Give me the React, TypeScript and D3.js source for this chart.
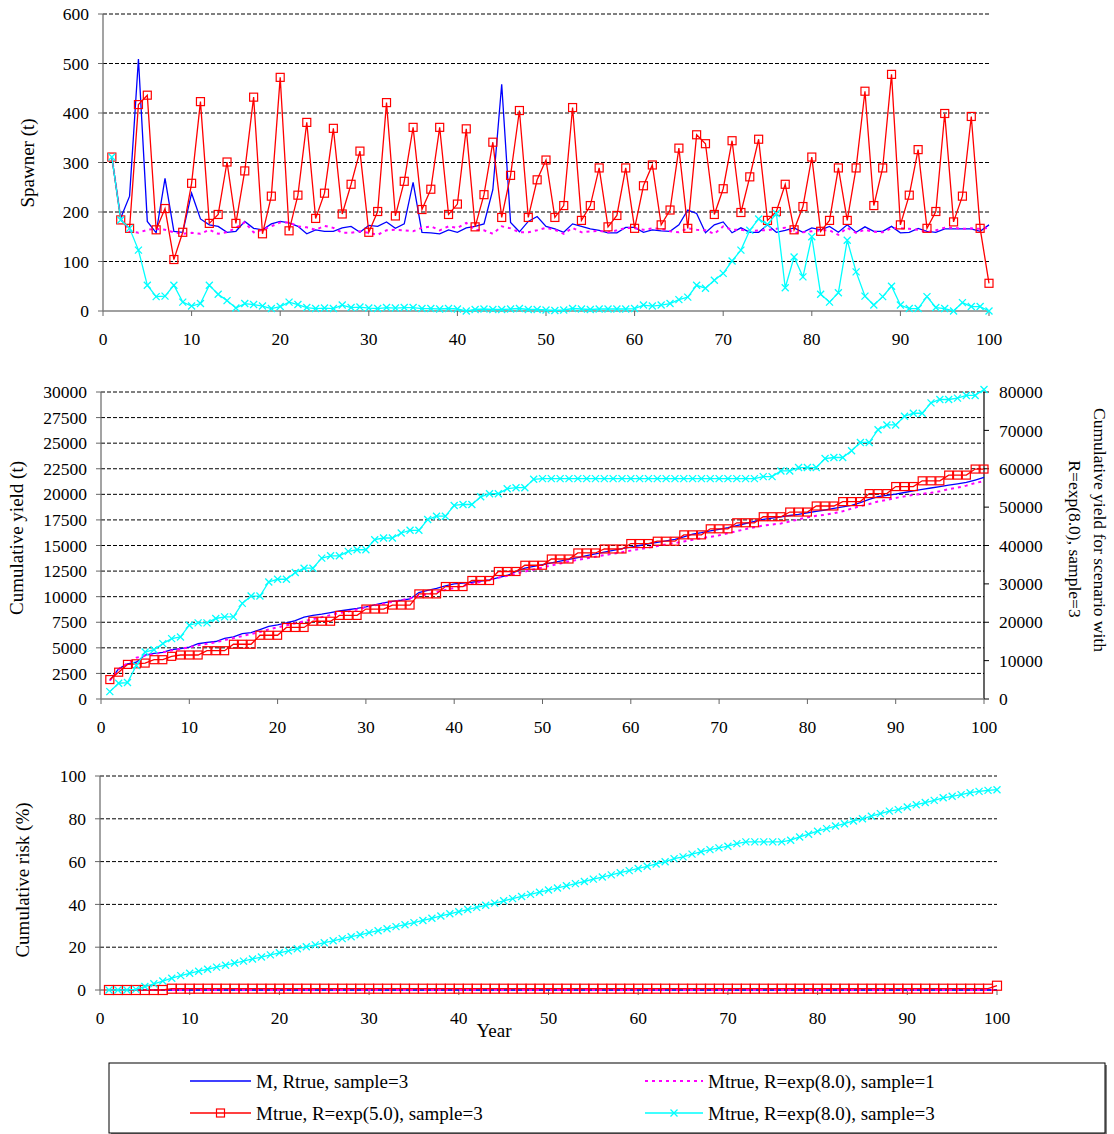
import React from "react";
import * as d3 from "d3";

const YEARS = d3.range(1, 101);

// ---------- Panel 1: Spawner (t) ----------
const spawnerM_Rtrue_s3 = [311,188,232,509,181,158,268,161,159,238,186,174,171,159,161,181,167,164,176,181,178,171,156,164,161,161,168,171,159,173,171,180,167,176,260,159,158,156,164,159,168,171,176,245,458,179,160,181,191,171,166,159,176,171,166,163,158,158,169,169,159,164,162,161,174,204,197,158,174,180,158,168,159,159,174,159,163,168,159,168,164,171,159,174,159,170,161,161,171,158,159,167,161,159,166,166,166,166,161,174];
const spawnerMtrue_R8_s1 = [311,186,161,158,164,166,164,159,156,158,156,164,156,159,168,179,159,164,171,179,179,171,169,164,172,168,158,158,161,158,154,163,164,163,161,168,171,163,171,168,178,164,163,156,171,167,159,159,163,168,164,156,168,159,161,162,159,163,168,167,164,167,166,161,159,167,164,163,156,171,164,164,161,163,163,166,168,158,159,161,163,163,154,168,158,164,160,159,167,167,166,164,159,163,168,168,166,167,166,168];
const spawnerMtrue_R5_s3 = [311,184,167,417,436,164,207,104,159,258,423,177,195,301,177,283,432,156,232,472,162,234,381,187,238,369,196,256,323,159,201,421,192,262,371,205,246,371,195,216,368,170,235,341,189,274,405,189,265,305,189,213,411,183,213,289,170,193,289,167,253,295,174,204,329,167,356,338,195,247,344,199,271,347,183,201,256,164,211,311,161,183,289,183,289,444,213,289,478,174,234,326,167,201,399,180,232,393,167,56];
const spawnerMtrue_R8_s3 = [311,184,167,123,52,29,30,52,18,10,15,52,34,21,6,15,13,10,5,9,18,13,7,5,6,5,12,7,8,6,5,7,6,7,7,5,5,4,5,4,0,3,4,3,3,4,5,3,3,2,1,2,5,4,3,4,4,4,4,5,12,10,12,15,23,28,52,46,62,76,101,123,163,186,175,197,47,109,69,150,34,18,37,143,79,30,12,29,50,12,5,5,29,7,5,0,17,9,9,0];

// ---------- Panel 2: Cumulative yield (t) ----------
const yieldM_Rtrue_s3 = [1800,2950,3440,3600,4300,4450,4550,4820,4920,5080,5400,5540,5620,5930,6070,6380,6490,6790,7100,7250,7450,7650,8000,8170,8300,8450,8600,8720,8850,9000,9200,9400,9550,9650,9780,10400,10620,10820,11050,11250,11330,11410,11520,11640,11850,12070,12460,12790,12950,13120,13300,13480,13650,13820,14000,14180,14350,14520,14690,14850,15000,15150,15300,15450,15600,15850,16100,16250,16420,16580,16740,16950,17150,17350,17550,17680,17800,17930,18050,18200,18330,18470,18620,18780,18930,19200,19500,19780,19900,20010,20180,20340,20480,20620,20760,20890,21020,21160,21400,21650];
const yieldMtrue_R8_s1 = [1800,2900,3500,4030,4250,4400,4550,4750,4900,5050,5250,5400,5550,5750,5950,6150,6350,6550,6800,7000,7200,7400,7600,7800,8000,8200,8400,8550,8750,8950,9150,9300,9500,9650,9850,10050,10250,10450,10650,10850,11050,11250,11450,11650,11850,12050,12250,12450,12650,12850,13050,13250,13450,13600,13750,13900,14050,14200,14350,14500,14650,14800,14950,15100,15250,15400,15550,15700,15850,16000,16200,16400,16600,16780,16950,17050,17150,17350,17550,17750,17900,18000,18150,18350,18600,18850,19050,19300,19450,19650,19800,19950,20050,20150,20300,20500,20650,20850,21100,21300];
const yieldMtrue_R5_s3 = [1900,2620,3380,3440,3510,3840,3840,4170,4300,4300,4300,4720,4720,4720,5350,5350,5350,6230,6230,6230,6990,6990,6990,7600,7600,7600,8170,8170,8170,8790,8790,8790,9180,9180,9180,10270,10270,10270,10990,10990,10990,11580,11580,11580,12460,12460,12460,13070,13070,13070,13680,13680,13680,14270,14270,14270,14660,14660,14660,15190,15190,15190,15420,15420,15420,16040,16040,16040,16630,16630,16630,17220,17220,17220,17810,17810,17810,18270,18270,18270,18860,18860,18860,19290,19290,19290,20070,20070,20070,20760,20760,20760,21320,21320,21320,21880,21880,21880,22470,22470];
// right axis
const yieldMtrue_R8_s3 = [1920,4110,4280,8740,12240,12850,14420,15730,16170,19230,19840,19840,20980,21410,21410,24910,26830,26830,30500,31200,31200,32950,34090,34090,36700,37320,37320,38460,38890,38890,41520,41950,41950,43260,43960,43960,46760,47630,47630,50430,50690,50690,52700,53490,53490,54800,55060,55060,57250,57420,57420,57420,57420,57420,57420,57420,57420,57420,57420,57420,57420,57420,57420,57420,57420,57420,57420,57420,57420,57420,57420,57420,57420,57420,57950,57950,59430,59430,60310,60310,60310,62670,62930,62930,64680,66860,66860,70180,71410,71410,73680,74460,74460,77170,78050,78050,78400,79100,79100,80670];

// ---------- Panel 3: Cumulative risk (%) ----------
const riskM_Rtrue_s3 = [0,0,0,0,0,0,0,0,0,0,0,0,0,0,0,0,0,0,0,0,0,0,0,0,0,0,0,0,0,0,0,0,0,0,0,0,0,0,0,0,0,0,0,0,0,0,0,0,0,0,0,0,0,0,0,0,0,0,0,0,0,0,0,0,0,0,0,0,0,0,0,0,0,0,0,0,0,0,0,0,0,0,0,0,0,0,0,0,0,0,0,0,0,0,0,0,0,0,0,0];
const riskMtrue_R8_s1 = [0,0,0,0,0,0,0,0,0,0,0,0,0,0,0,0,0,0,0,0,0,0,0,0,0,0,0,0,0,0,0,0,0,0,0,0,0,0,0,0,0,0,0,0,0,0,0,0,0,0,0,0,0,0,0,0,0,0,0,0,0,0,0,0,0,0,0,0,0,0,0,0,0,0,0,0,0,0,0,0,0,0,0,0,0,0,0,0,0,0,0,0,0,0,0,0,0,0,0,0];
const riskMtrue_R5_s3 = [0,0,0,0,0,0,0,0.6,0.6,0.6,0.6,0.6,0.6,0.6,0.6,0.6,0.6,0.6,0.6,0.6,0.6,0.6,0.6,0.6,0.6,0.6,0.6,0.6,0.6,0.6,0.6,0.6,0.6,0.6,0.6,0.6,0.6,0.6,0.6,0.6,0.6,0.6,0.6,0.6,0.6,0.6,0.6,0.6,0.6,0.6,0.6,0.6,0.6,0.6,0.6,0.6,0.6,0.6,0.6,0.6,0.6,0.6,0.6,0.6,0.6,0.6,0.6,0.6,0.6,0.6,0.6,0.6,0.6,0.6,0.6,0.6,0.6,0.6,0.6,0.6,0.6,0.6,0.6,0.6,0.6,0.6,0.6,0.6,0.6,0.6,0.6,0.6,0.6,0.6,0.6,0.6,0.6,0.6,0.6,2.0];
const riskMtrue_R8_s3 = [0,0,0,0.3,1.6,2.9,4.2,5.5,6.7,7.8,8.8,9.7,10.7,11.6,12.6,13.5,14.5,15.4,16.4,17.4,18.3,19.3,20.2,21.1,22.1,23.0,24.0,24.9,25.8,26.8,27.7,28.6,29.6,30.5,31.5,32.5,33.5,34.6,35.6,36.6,37.6,38.6,39.6,40.6,41.7,42.7,43.7,44.7,45.7,46.7,47.7,48.7,49.7,50.7,51.8,52.8,53.8,54.8,55.8,56.8,57.8,58.9,59.9,61.4,62.2,63.5,64.6,65.6,66.4,67.2,68.4,69.2,69.2,69.2,69.2,69.2,70.0,71.5,72.8,74.2,75.4,76.6,77.7,79.0,80.0,81.2,82.4,83.6,84.3,85.5,86.6,87.6,88.6,89.8,90.5,91.3,92.2,92.8,93.3,93.6];

const X_TICKS = [0, 10, 20, 30, 40, 50, 60, 70, 80, 90, 100];
const SPAWNER_TICKS = [0, 100, 200, 300, 400, 500, 600];
const YIELD_TICKS = [0, 2500, 5000, 7500, 10000, 12500, 15000, 17500, 20000, 22500, 25000, 27500, 30000];
const YIELD_RIGHT_TICKS = [0, 10000, 20000, 30000, 40000, 50000, 60000, 70000, 80000];
const RISK_TICKS = [0, 20, 40, 60, 80, 100];

const LEGEND = [
  { label: "M, Rtrue, sample=3", key: "blue" },
  { label: "Mtrue, R=exp(8.0), sample=1", key: "magenta" },
  { label: "Mtrue, R=exp(5.0), sample=3", key: "red" },
  { label: "Mtrue, R=exp(8.0), sample=3", key: "cyan" },
];

const FONT = "'Liberation Serif', 'Times New Roman', serif";
const TICK_FS = 17.5;
const TITLE_FS = 19;
const COLORS: Record<string, string> = { blue: "#0000FF", magenta: "#FF00FF", red: "#FF0000", cyan: "#00FFFF" };

function Square({ x, y, s }: { x: number; y: number; s: number }) {
  return <rect x={x - s / 2} y={y - s / 2} width={s} height={s} fill="none" stroke={COLORS.red} strokeWidth={1.2} />;
}
function Cross({ x, y, s }: { x: number; y: number; s: number }) {
  const h = s / 2;
  return (
    <path d={`M${x - h},${y - h}L${x + h},${y + h}M${x - h},${y + h}L${x + h},${y - h}`} stroke={COLORS.cyan} strokeWidth={1.3} fill="none" />
  );
}

type SeriesDef = { values: number[]; key: string; right?: boolean };

function Panel(props: {
  x0: number; x1: number; yTop: number; yBot: number;
  yDomain: [number, number]; yTicks: number[];
  rightDomain?: [number, number]; rightTicks?: number[];
  series: SeriesDef[];
  sq: number; cr: number;
  xLabelY: number;
}) {
  const { x0, x1, yTop, yBot, yDomain, yTicks, rightDomain, rightTicks, series, sq, cr, xLabelY } = props;
  const x = d3.scaleLinear().domain([0, 100]).range([x0, x1]);
  const y = d3.scaleLinear().domain(yDomain).range([yBot, yTop]);
  const yr = rightDomain ? d3.scaleLinear().domain(rightDomain).range([yBot, yTop]) : null;
  const gridTicks = yTicks.filter((t) => t !== yDomain[0]);
  return (
    <g>
      {gridTicks.map((t) => (
        <line key={"g" + t} x1={x0} x2={x1} y1={y(t)} y2={y(t)} stroke="#000" strokeWidth={1} strokeDasharray="4,2" />
      ))}
      <line x1={x0} x2={x0} y1={yTop} y2={yBot} stroke="#666" strokeWidth={1.2} />
      {yTicks.map((t) => (
        <g key={"yt" + t}>
          <line x1={x0 - 5} x2={x0} y1={y(t)} y2={y(t)} stroke="#666" />
          <text x={x0 - 14} y={y(t)} dy="0.35em" textAnchor="end" fontSize={TICK_FS} fontFamily={FONT}>{t}</text>
        </g>
      ))}
      {yr && rightTicks && (
        <g>
          <line x1={x1} x2={x1} y1={yTop} y2={yBot} stroke="#000" strokeWidth={1.2} />
          {rightTicks.map((t) => (
            <g key={"rt" + t}>
              <line x1={x1} x2={x1 + 5} y1={yr(t)} y2={yr(t)} stroke="#000" />
              <text x={x1 + 15} y={yr(t)} dy="0.35em" textAnchor="start" fontSize={TICK_FS} fontFamily={FONT}>{t}</text>
            </g>
          ))}
        </g>
      )}
      <line x1={x0} x2={x1} y1={yBot} y2={yBot} stroke="#808080" strokeWidth={1.5} />
      {X_TICKS.map((t) => (
        <g key={"xt" + t}>
          <line x1={x(t)} x2={x(t)} y1={yBot} y2={yBot + 5} stroke="#666" />
          <text x={x(t)} y={xLabelY} dy="0.35em" textAnchor="middle" fontSize={TICK_FS} fontFamily={FONT}>{t}</text>
        </g>
      ))}
      {series.map((s) => {
        const sc = s.right && yr ? yr : y;
        const line = d3.line<number>().x((_, i) => x(YEARS[i])).y((v) => sc(v));
        const d = line(s.values) || "";
        const color = COLORS[s.key];
        return (
          <g key={s.key}>
            <path d={d} fill="none" stroke={color} strokeWidth={s.key === "magenta" ? 2 : 1.3}
              strokeDasharray={s.key === "magenta" ? "3,4" : undefined} />
            {s.key === "red" && s.values.map((v, i) => <Square key={i} x={x(YEARS[i])} y={sc(v)} s={sq} />)}
            {s.key === "cyan" && s.values.map((v, i) => <Cross key={i} x={x(YEARS[i])} y={sc(v)} s={cr} />)}
          </g>
        );
      })}
    </g>
  );
}

export default function App() {
  return (
    <svg width={1114} height={1134} style={{ position: "absolute", left: 0, top: 0, background: "#fff" }}>
      <rect x={0} y={0} width={1114} height={1134} fill="#fff" />
      <Panel x0={103} x1={989} yTop={14} yBot={311} yDomain={[0, 600]} yTicks={SPAWNER_TICKS}
        series={[
          { values: spawnerM_Rtrue_s3, key: "blue" },
          { values: spawnerMtrue_R8_s1, key: "magenta" },
          { values: spawnerMtrue_R5_s3, key: "red" },
          { values: spawnerMtrue_R8_s3, key: "cyan" },
        ]}
        sq={8} cr={7} xLabelY={339} />
      <text transform="translate(27,163) rotate(-90)" textAnchor="middle" dy="0.35em" fontSize={TITLE_FS} fontFamily={FONT}>Spawner (t)</text>

      <Panel x0={101} x1={984} yTop={392} yBot={699} yDomain={[0, 30000]} yTicks={YIELD_TICKS}
        rightDomain={[0, 80000]} rightTicks={YIELD_RIGHT_TICKS}
        series={[
          { values: yieldM_Rtrue_s3, key: "blue" },
          { values: yieldMtrue_R8_s1, key: "magenta" },
          { values: yieldMtrue_R5_s3, key: "red" },
          { values: yieldMtrue_R8_s3, key: "cyan", right: true },
        ]}
        sq={8} cr={7} xLabelY={727} />
      <text transform="translate(16,538) rotate(-90)" textAnchor="middle" dy="0.35em" fontSize={TITLE_FS} fontFamily={FONT}>Cumulative yield (t)</text>
      <text transform="translate(1100,530) rotate(90)" textAnchor="middle" dy="0.35em" fontSize={17.5} fontFamily={FONT}>Cumulative yield for scenario with</text>
      <text transform="translate(1075,539) rotate(90)" textAnchor="middle" dy="0.35em" fontSize={17.5} fontFamily={FONT}>R=exp(8.0), sample=3</text>

      <Panel x0={100} x1={997} yTop={776} yBot={990} yDomain={[0, 100]} yTicks={RISK_TICKS}
        series={[
          { values: riskM_Rtrue_s3, key: "blue" },
          { values: riskMtrue_R8_s1, key: "magenta" },
          { values: riskMtrue_R5_s3, key: "red" },
          { values: riskMtrue_R8_s3, key: "cyan" },
        ]}
        sq={9} cr={7} xLabelY={1018} />
      <text transform="translate(22,880) rotate(-90)" textAnchor="middle" dy="0.35em" fontSize={TITLE_FS} fontFamily={FONT}>Cumulative risk (%)</text>
      <text x={494} y={1030} dy="0.35em" textAnchor="middle" fontSize={TITLE_FS} fontFamily={FONT}>Year</text>

      <rect x={111} y={1065} width={996} height={70} fill="#808080" />
      <rect x={109} y={1063} width={996} height={70} fill="#fff" stroke="#000" strokeWidth={1} />
      {LEGEND.map((l, i) => {
        const col = i % 2;
        const row = Math.floor(i / 2);
        const lx0 = col === 0 ? 190 : 645;
        const lx1 = col === 0 ? 251 : 703;
        const ly = row === 0 ? 1081 : 1113;
        const color = COLORS[l.key];
        return (
          <g key={l.key}>
            <line x1={lx0} x2={lx1} y1={ly} y2={ly} stroke={color} strokeWidth={l.key === "magenta" ? 2 : 1.3}
              strokeDasharray={l.key === "magenta" ? "3,4" : undefined} />
            {l.key === "red" && <Square x={(lx0 + lx1) / 2} y={ly} s={8} />}
            {l.key === "cyan" && <Cross x={(lx0 + lx1) / 2} y={ly} s={7} />}
            <text x={lx1 + 5} y={ly} dy="0.35em" fontSize={TITLE_FS} fontFamily={FONT}>{l.label}</text>
          </g>
        );
      })}
    </svg>
  );
}
